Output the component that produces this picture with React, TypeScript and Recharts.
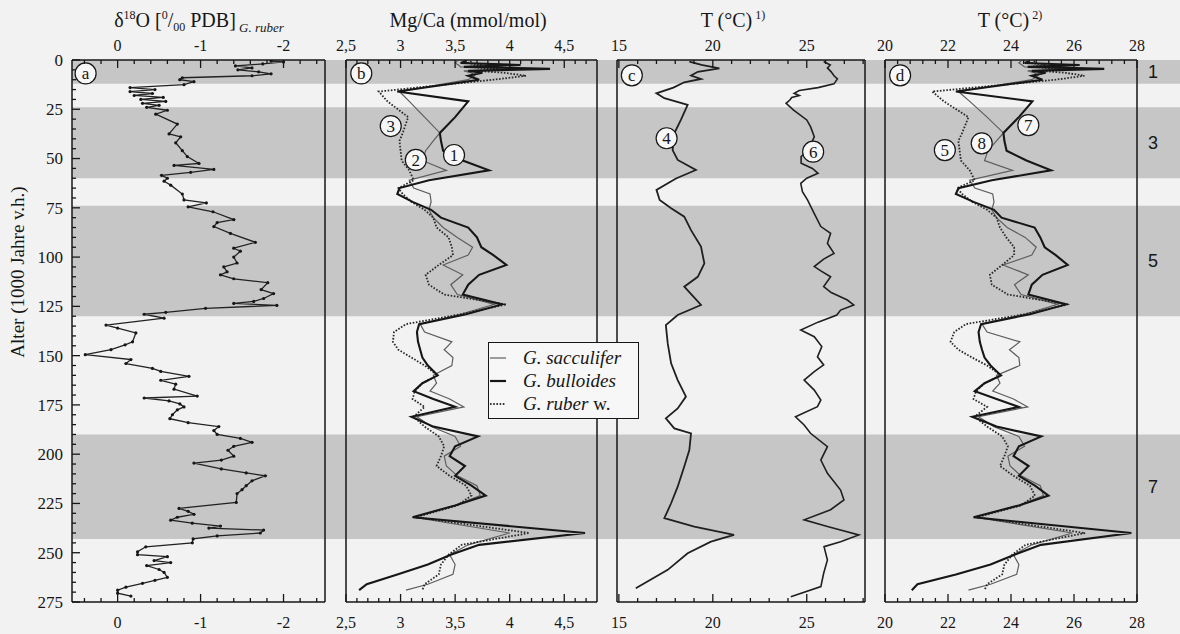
import React from 'react';
import { ScatterChart, Scatter, XAxis, YAxis, ReferenceArea, ReferenceDot, Legend } from 'recharts';

const W = 1180;
const H = 634;
const PLOT_TOP = 60;
const PLOT_BOTTOM = 602;
const AX = 10;

const PAPER = '#f2f2f2';
const BAND = '#c6c6c6';
const INK = '#161616';
const THIN = '#5e5e5e';
const SERIF = '"Liberation Serif", "Times New Roman", Times, serif';
const SANS = '"Liberation Sans", Arial, Helvetica, sans-serif';

// ---------------- data ----------------
const misStages = ['1', '3', '5', '7'];
const misFrom = [0, 24, 74, 190];
const misTo = [12, 60, 130, 243];

const d18oAges = [0.5, 1, 2, 3, 4, 5, 6, 7, 8, 9, 10, 11, 12.5, 14, 15, 16, 17, 18, 19, 20, 21, 22, 23, 24, 25.5, 27.5, 32.5, 37.5, 39, 42, 46, 49, 52.5, 53.5, 55.5, 57, 58.5, 60, 61.5, 63.5, 68, 71, 72.5, 74.5, 77, 81, 82.5, 84.5, 88, 92.5, 95.5, 97, 100, 103, 105, 107.5, 109, 111, 113, 116.5, 118.5, 121, 122.5, 123.5, 124.5, 126, 128, 129, 131, 134.5, 136, 138.5, 143, 144.5, 147, 149.5, 152, 154, 156.5, 158, 160.5, 162.5, 164.5, 167, 170.5, 171.5, 173, 174.5, 176, 177.5, 180, 182, 184, 186, 188, 190, 192, 194, 196, 198, 201, 203, 204.5, 207.5, 209.5, 211, 213.5, 216, 218, 220, 224.5, 227.5, 229, 230.5, 232, 233.5, 235, 236.5, 237.5, 238.5, 240, 241.5, 243, 245, 247, 249.5, 251, 252, 254, 255, 256.5, 258.5, 260, 262.5, 264, 265.5, 267.5, 269, 270.5, 272];
const d18oValues = [-1.85, -2.0, -1.75, -1.42, -1.62, -1.45, -1.7, -1.85, -1.62, -0.78, -0.75, -0.92, -0.8, -0.15, -0.45, -0.15, -0.42, -0.2, -0.55, -0.28, -0.58, -0.3, -0.5, -0.35, -0.6, -0.46, -0.72, -0.62, -0.76, -0.7, -0.78, -0.84, -0.98, -0.68, -1.16, -0.88, -0.53, -0.6, -0.56, -0.64, -0.78, -0.8, -1.07, -0.85, -1.15, -1.4, -1.2, -1.16, -1.36, -1.66, -1.4, -1.48, -1.4, -1.44, -1.28, -1.32, -1.24, -1.4, -1.81, -1.73, -1.88, -1.76, -1.64, -1.4, -1.92, -1.06, -0.58, -0.32, -0.56, 0.14, 0, -0.22, -0.18, -0.09, 0.08, 0.39, -0.16, -0.1, -0.42, -0.52, -0.86, -0.52, -0.7, -0.68, -0.96, -0.32, -0.62, -0.75, -0.8, -0.72, -0.66, -0.63, -0.85, -1.22, -1.16, -1.2, -1.48, -1.62, -1.4, -1.33, -1.4, -1.25, -0.92, -1.25, -1.55, -1.78, -1.62, -1.55, -1.5, -1.44, -1.43, -0.74, -0.85, -0.92, -0.72, -0.64, -0.9, -1.24, -1.1, -1.76, -1.72, -1.2, -0.91, -0.9, -0.34, -0.24, -0.24, -0.6, -0.44, -0.64, -0.35, -0.5, -0.56, -0.6, -0.45, -0.3, -0.1, 0, 0, -0.16];

const mgcaAges = [0.5, 1.5, 2.5, 3.5, 4.5, 5.5, 6.5, 8, 10, 16, 21, 29, 37, 41, 46, 51, 56, 61, 65, 68, 72, 76, 80, 85, 90, 95, 99, 104, 109, 114, 119, 124, 129, 134, 138, 143, 147, 151, 155, 160, 164, 168, 172, 176, 181, 186, 191, 196, 201, 206, 211, 216, 221, 226, 232, 240, 246, 251, 256, 261, 266, 269];
const sacculiferMgCa = [3.52, 3.5, 3.53, 3.55, 4.25, 3.58, 3.65, 3.68, 3.62, 2.99, 3.08, 3.22, 3.36, 3.3, 3.23, 3.2, 3.42, 3.08, 3.12, 3.27, 3.28, 3.26, 3.3, 3.39, 3.52, 3.66, 3.62, 3.39, 3.57, 3.46, 3.52, 3.86, 3.55, 3.18, 3.22, 3.47, 3.4, 3.48, 3.47, 3.3, 3.33, 3.27, 3.45, 3.58, 3.15, 3.28, 3.5, 3.55, 3.4, 3.42, 3.52, 3.7, 3.73, 3.5, 3.12, 4.0, 3.62, 3.45, 3.5, 3.48, 3.25, 3.05];
const bulloidesMgCa = [3.6, 3.55, 4.1, 3.58, 4.37, 3.62, 3.75, 3.62, 3.72, 2.97, 3.62, 3.5, 3.36, 3.37, 3.39, 3.57, 3.81, 3.26, 2.99, 2.97, 3.11, 3.28, 3.37, 3.62, 3.7, 3.74, 3.85, 3.97, 3.72, 3.62, 3.57, 3.93, 3.6, 3.17, 3.15, 3.16, 3.18, 3.2, 3.25, 3.34, 3.2, 3.12, 3.3, 3.5, 3.1, 3.3, 3.71, 3.5, 3.45, 3.59, 3.5, 3.65, 3.78, 3.5, 3.11, 4.69, 3.72, 3.46, 3.25, 2.97, 2.69, 2.62];
const ruberMgCa = [3.65, 3.62, 3.75, 3.62, 3.9, 3.7, 3.95, 4.15, 3.85, 2.8, 2.88, 3.07, 3.02, 2.99, 3.0, 3.01, 3.08, 3.12, 2.98, 3.02, 3.1, 3.22, 3.3, 3.33, 3.44, 3.47, 3.48, 3.35, 3.23, 3.26, 3.4, 3.97, 3.55, 3.05, 2.94, 2.93, 2.98, 3.1, 3.22, 3.34, 3.2, 3.13, 3.11, 3.22, 3.12, 3.22, 3.35, 3.4, 3.37, 3.33, 3.45, 3.6, 3.65, 3.52, 3.14, 4.18, 3.56, 3.44, 3.37, 3.35, 3.22, 3.2];

const sacculiferT = [24.32, 24.25, 24.35, 24.43, 26.62, 24.53, 24.76, 24.86, 24.66, 22.33, 22.69, 23.24, 23.76, 23.54, 23.27, 23.16, 24.05, 22.69, 22.85, 23.42, 23.46, 23.39, 23.54, 23.88, 24.45, 24.8, 24.66, 23.75, 24.55, 24.11, 24.32, 25.48, 24.43, 23.08, 23.24, 24.28, 23.95, 24.25, 24.28, 23.54, 23.65, 23.42, 24.08, 24.53, 22.97, 23.46, 24.25, 24.43, 23.9, 23.97, 24.32, 24.93, 25.03, 24.25, 22.85, 25.95, 24.66, 24.08, 24.25, 24.18, 23.35, 22.65];
const bulloidesT = [24.6, 24.43, 26.18, 24.53, 26.96, 24.66, 25.1, 24.66, 25.0, 22.25, 24.68, 24.25, 23.76, 23.79, 23.86, 24.49, 25.27, 23.39, 22.33, 22.25, 22.81, 23.46, 23.7, 24.75, 24.93, 25.07, 25.42, 25.8, 25.0, 24.66, 24.55, 25.75, 24.6, 23.05, 22.97, 23.01, 23.08, 23.16, 23.35, 23.68, 23.16, 22.85, 23.54, 24.25, 22.77, 23.54, 24.96, 24.25, 24.08, 24.56, 24.25, 24.76, 25.19, 24.25, 22.81, 27.82, 24.95, 24.11, 23.35, 22.25, 21.03, 20.85];
const ruberT = [24.76, 24.66, 25.1, 24.66, 25.57, 24.93, 25.73, 26.33, 25.42, 21.5, 21.87, 22.65, 22.45, 22.33, 22.37, 22.41, 22.69, 22.85, 22.29, 22.45, 22.77, 23.24, 23.54, 23.65, 23.85, 24.1, 24.1, 23.72, 23.33, 23.39, 23.9, 25.8, 24.43, 22.57, 22.2, 22.08, 22.33, 22.77, 23.24, 23.68, 23.16, 22.89, 22.81, 23.24, 22.85, 23.24, 23.72, 23.9, 23.79, 23.65, 24.08, 24.6, 24.76, 24.32, 22.93, 26.35, 24.46, 24.04, 23.79, 23.72, 23.24, 23.16];

const coolAges = [0.8, 2.5, 4.2, 6, 7.9, 9.6, 11.3, 14, 16.9, 19.4, 22.8, 30.4, 37.2, 45.7, 50.7, 55.8, 60.1, 65.9, 71, 75.2, 79.5, 86.3, 94.7, 103.2, 110, 115, 124.3, 129.4, 134.5, 143.8, 153.9, 162.4, 170.8, 176.8, 181.8, 186.9, 189.4, 197.9, 206.3, 216.5, 224.9, 232.5, 236.8, 241, 244.4, 250.3, 258.7, 268];
const coolT = [18.75, 19.4, 20.35, 19.2, 18.84, 19.37, 18.48, 17.9, 17.0, 17.42, 18.66, 18.3, 17.95, 17.86, 18.13, 19.1, 18.04, 17.0, 17.17, 17.78, 18.48, 18.84, 19.37, 19.55, 19.2, 18.48, 19.37, 18.13, 17.5, 17.6, 17.78, 18.13, 18.57, 18.13, 17.5, 17.95, 18.84, 18.75, 18.48, 18.13, 17.78, 17.42, 19.01, 21.13, 19.9, 18.66, 17.6, 15.9];
const warmAges = [0.8, 2.5, 4, 6, 8, 9.6, 12.1, 14, 15.5, 16.9, 18, 19, 20.3, 22, 25.4, 30.4, 33.8, 38.9, 45.7, 49, 52.4, 55, 57.5, 60, 62.6, 66.8, 71, 77.9, 84.5, 87.9, 93, 98.1, 101, 104.8, 107, 110, 115, 118, 121.8, 124.3, 126.9, 129.4, 133, 137, 140.4, 145.4, 150.6, 154.7, 158.1, 162.4, 167.5, 172.5, 175.9, 181, 185.2, 189.4, 196.2, 203, 209.7, 218.2, 223.2, 228.2, 233.3, 236.7, 241, 244.4, 246.9, 253.7, 260.4, 267.2, 272.3];
const warmT = [25.9, 26.25, 26.1, 26.3, 26.45, 26.63, 26.45, 25.6, 24.6, 24.33, 24.6, 24.2, 24.1, 23.9, 24.3, 25.0, 25.2, 25.4, 25.1, 24.7, 24.7, 25.3, 25.6, 25.0, 24.68, 24.77, 25.04, 25.4, 25.75, 26.27, 26.1, 26.45, 25.9, 25.4, 25.75, 26.27, 25.9, 26.3, 27.16, 27.5, 26.8, 26.6, 25.6, 24.68, 25.4, 25.8, 25.57, 25.9, 25.4, 24.86, 25.4, 25.75, 25.57, 24.4, 24.86, 25.2, 26.1, 25.75, 26.1, 26.8, 26.98, 26.27, 24.86, 26.1, 27.77, 26.8, 25.92, 26.1, 25.9, 25.75, 24.15];

// tick values
const ageMajors = [0, 25, 50, 75, 100, 125, 150, 175, 200, 225, 250, 275];
const d18oMajors = [0, -1, -2];
const mgcaMajors = [2.5, 3, 3.5, 4, 4.5];
const tcMajors = [15, 20, 25];
const tdMajors = [20, 22, 24, 26, 28];

// annotation tags [text, x value, age]
const tagsA: [string, number, number][] = [['a', 0.386, 6.8]];
const tagsB: [string, number, number][] = [['b', 2.64, 6.8], ['3', 2.91, 33.5], ['2', 3.14, 50.7], ['1', 3.49, 48.2]];
const tagsC: [string, number, number][] = [['c', 15.69, 7.8], ['4', 17.54, 39.7], ['6', 25.34, 46.5]];
const tagsD: [string, number, number][] = [['d', 20.48, 7.8], ['7', 24.55, 33], ['8', 23.07, 42.3], ['5', 21.9, 45.7]];

const legendNames = ['G. sacculifer', 'G. bulloides', 'G. ruber'];
const legendSuffix = ['', '', ' w.'];

// ---------------- helpers ----------------
const range = (a: number, b: number, s: number) => {
  const out: number[] = [];
  for (let v = a; v <= b + 1e-9; v += s) out.push(Math.round(v * 1000) / 1000);
  return out;
};
const near = (a: number, b: number) => Math.abs(a - b) < 1e-6;
const zip = (ages: number[], vals: number[]) => ages.map((y, i) => ({ x: vals[i], y }));

const ageTicks = range(0, 275, 5);

type Spec = {
  frame: [number, number];
  domain: [number, number];
  reversed?: boolean;
  ticks: number[];
  majors: number[];
  fmt: (v: number) => string;
};

const specA: Spec = { frame: [72, 325], domain: [-2.5, 0.55], reversed: true, ticks: range(-2.4, 0.4, 0.2), majors: d18oMajors, fmt: (v) => (v === 0 ? '0' : String(v)) };
const specB: Spec = { frame: [346, 597], domain: [2.5, 4.8], ticks: range(2.5, 4.7, 0.1), majors: mgcaMajors, fmt: (v) => String(v).replace('.', ',') };
const specC: Spec = { frame: [617, 865], domain: [14.9, 28.1], ticks: range(15, 28, 1), majors: tcMajors, fmt: (v) => String(v) };
const specD: Spec = { frame: [885, 1137], domain: [20, 28], ticks: range(20, 28, 0.4), majors: tdMajors, fmt: (v) => String(v) };

const makeXTick = (side: 'top' | 'bottom', spec: Spec) => (props: any) => {
  const { x, y, payload } = props;
  const v = Number(payload?.value);
  const major = spec.majors.some((m) => near(m, v));
  const len = major ? 8 : 4;
  const dir = side === 'top' ? 1 : -1;
  return (
    <g>
      <line x1={x} x2={x} y1={y} y2={y + dir * len} stroke={INK} strokeWidth={1.3} />
      {major && (
        <text x={x} y={side === 'top' ? y - 9 : y + 26} textAnchor="middle" fontSize={16} fontFamily={SERIF} fill={INK}>
          {spec.fmt(v)}
        </text>
      )}
    </g>
  );
};

const AgeTick = (props: any) => {
  const { x, y, payload } = props;
  const v = Number(payload?.value);
  const major = ageMajors.some((m) => near(m, v));
  const len = major ? 8 : 4;
  return (
    <g>
      <line x1={x} x2={x + len} y1={y} y2={y} stroke={INK} strokeWidth={1.3} />
      {major && (
        <text x={x - 9} y={y} dy="0.35em" textAnchor="end" fontSize={17} fontFamily={SERIF} fill={INK}>
          {v}
        </text>
      )}
    </g>
  );
};

const NoDot = () => <g />;
const SmallDot = (p: any) => <circle cx={p.cx} cy={p.cy} r={1.6} fill={INK} />;

const makeTag = (t: string) => (p: any) => (
  <g>
    <circle cx={p.cx} cy={p.cy} r={10.5} fill="#f7f7f7" stroke={INK} strokeWidth={1.2} />
    <text x={p.cx} y={p.cy} dy="0.35em" textAnchor="middle" fontSize={17} fontFamily={SERIF} fill={INK}>
      {t}
    </text>
  </g>
);

const axisLine = { stroke: INK, strokeWidth: 1.5 };

const TitleA = () => (
  <text x={199} y={27} textAnchor="middle" fontFamily={SERIF} fontSize={20} fill={INK}>
    δ<tspan fontSize={12} dy={-8}>18</tspan>
    <tspan dy={8}>O [</tspan>
    <tspan fontSize={12} dy={-8}>0</tspan>
    <tspan dy={8}>/</tspan>
    <tspan fontSize={12} dy={4}>00</tspan>
    <tspan dy={-4}> PDB]</tspan>
    <tspan fontSize={13} fontStyle="italic" dy={5}> G. ruber</tspan>
  </text>
);
const TitleB = () => (
  <text x={468} y={27} textAnchor="middle" fontFamily={SERIF} fontSize={20} fill={INK}>
    Mg/Ca (mmol/mol)
  </text>
);
const TitleC = () => (
  <text x={733} y={27} textAnchor="middle" fontFamily={SERIF} fontSize={20} fill={INK}>
    T (°C)<tspan fontSize={12} dy={-8}> 1)</tspan>
  </text>
);
const TitleD = () => (
  <text x={1010} y={27} textAnchor="middle" fontFamily={SERIF} fontSize={20} fill={INK}>
    T (°C)<tspan fontSize={12} dy={-8}> 2)</tspan>
  </text>
);
const YTitle = () => (
  <text x={17} y={272} transform="rotate(-90 17 272)" textAnchor="middle" dominantBaseline="central" fontFamily={SERIF} fontSize={19} fill={INK}>
    Alter (1000 Jahre v.h.)
  </text>
);

const LegendBox = () => {
  const styles = [
    { stroke: THIN, width: 1.2, dash: undefined as string | undefined },
    { stroke: INK, width: 2.2, dash: undefined as string | undefined },
    { stroke: '#333', width: 1.8, dash: '1.6 1.6' },
  ];
  return (
    <div
      style={{
        width: 151,
        height: 77,
        boxSizing: 'border-box',
        border: `1.5px solid ${INK}`,
        background: '#f7f7f7',
        fontFamily: SERIF,
        fontSize: 19,
        color: INK,
        paddingTop: 3,
      }}
    >
      {legendNames.map((n, i) => (
        <div key={n} style={{ display: 'flex', alignItems: 'center', height: 23, paddingLeft: 1 }}>
          <svg width={16} height={10} style={{ flex: 'none' }}>
            <line x1={0} x2={16} y1={5} y2={5} stroke={styles[i].stroke} strokeWidth={styles[i].width} strokeDasharray={styles[i].dash} />
          </svg>
          <span style={{ marginLeft: 17, fontStyle: 'italic', whiteSpace: 'nowrap' }}>
            {n}
            {legendSuffix[i] && <span style={{ fontStyle: 'normal' }}>{legendSuffix[i]}</span>}
          </span>
        </div>
      ))}
    </div>
  );
};

function PanelChart(props: {
  spec: Spec;
  ageAxis?: boolean;
  title: any;
  children?: React.ReactNode;
}) {
  const { spec, ageAxis, title, children } = props;
  const [L, R] = spec.frame;
  const margin = { top: PLOT_TOP - AX, bottom: H - PLOT_BOTTOM - AX, left: L - AX, right: W - R - AX };
  return (
    <div style={{ position: 'absolute', left: 0, top: 0 }}>
      <ScatterChart width={W} height={H} margin={margin}>
        <XAxis
          xAxisId="top"
          orientation="top"
          type="number"
          dataKey="x"
          domain={spec.domain}
          reversed={spec.reversed}
          allowDataOverflow
          ticks={spec.ticks}
          interval={0}
          tickSize={0}
          tickMargin={0}
          tickLine={false}
          tick={makeXTick('top', spec)}
          height={AX}
          axisLine={axisLine}
          label={title}
        />
        <XAxis
          xAxisId="bottom"
          orientation="bottom"
          type="number"
          dataKey="x"
          domain={spec.domain}
          reversed={spec.reversed}
          allowDataOverflow
          ticks={spec.ticks}
          interval={0}
          tickSize={0}
          tickMargin={0}
          tickLine={false}
          tick={makeXTick('bottom', spec)}
          height={AX}
          axisLine={axisLine}
        />
        <YAxis
          yAxisId="left"
          orientation="left"
          type="number"
          dataKey="y"
          domain={[0, 275]}
          reversed
          allowDataOverflow
          width={AX}
          ticks={ageAxis ? ageTicks : undefined}
          interval={0}
          tickSize={0}
          tickMargin={0}
          tickLine={false}
          tick={ageAxis ? AgeTick : false}
          axisLine={axisLine}
          label={ageAxis ? YTitle : undefined}
        />
        <YAxis
          yAxisId="right"
          orientation="right"
          type="number"
          dataKey="y"
          domain={[0, 275]}
          reversed
          allowDataOverflow
          width={AX}
          tick={false}
          tickLine={false}
          axisLine={axisLine}
        />
        {children}
      </ScatterChart>
    </div>
  );
}

const renderTags = (tags: [string, number, number][]) =>
  tags.map(([t, x, y]) => (
    <ReferenceDot key={t} xAxisId="bottom" yAxisId="left" x={x} y={y} r={10} ifOverflow="visible" shape={makeTag(t)} />
  ));

const lineThin = { stroke: THIN, strokeWidth: 1.2 };
const lineThick = { stroke: INK, strokeWidth: 2.1 };
const lineDot = { stroke: '#2a2a2a', strokeWidth: 1.8, strokeDasharray: '1.6 1.6' };

export default function App() {
  return (
    <div style={{ position: 'absolute', left: 0, top: 0, width: W, height: H, background: PAPER, overflow: 'hidden' }}>
      {/* background bands */}
      <div style={{ position: 'absolute', left: 0, top: 0 }}>
        <ScatterChart width={W} height={H} margin={{ top: PLOT_TOP, bottom: H - PLOT_BOTTOM, left: 72, right: 0 }}>
          <XAxis xAxisId="bg" type="number" dataKey="x" domain={[0, 1]} hide allowDataOverflow />
          <YAxis yAxisId="bg" type="number" dataKey="y" domain={[0, 275]} reversed hide allowDataOverflow />
          <Scatter xAxisId="bg" yAxisId="bg" data={[{ x: 0, y: 0 }]} shape={NoDot} isAnimationActive={false} />
          {misStages.map((s, i) => (
            <ReferenceArea
              key={s}
              xAxisId="bg"
              yAxisId="bg"
              y1={misFrom[i]}
              y2={misTo[i]}
              fill={BAND}
              fillOpacity={1}
              stroke="none"
              ifOverflow="visible"
              label={{ value: s, position: 'insideRight', offset: 22, fill: INK, fontSize: 18, fontFamily: SANS }}
            />
          ))}
        </ScatterChart>
      </div>

      <PanelChart spec={specA} ageAxis title={TitleA}>
        <Scatter
          xAxisId="bottom"
          yAxisId="left"
          data={zip(d18oAges, d18oValues)}
          line={{ stroke: '#222', strokeWidth: 1.3 }}
          shape={SmallDot}
          fill={INK}
          isAnimationActive={false}
        />
        {renderTags(tagsA)}
      </PanelChart>

      <PanelChart spec={specB} title={TitleB}>
        <Scatter xAxisId="bottom" yAxisId="left" data={zip(mgcaAges, sacculiferMgCa)} line={lineThin} shape={NoDot} fill={THIN} isAnimationActive={false} />
        <Scatter xAxisId="bottom" yAxisId="left" data={zip(mgcaAges, ruberMgCa)} line={lineDot} shape={NoDot} fill="#2a2a2a" isAnimationActive={false} />
        <Scatter xAxisId="bottom" yAxisId="left" data={zip(mgcaAges, bulloidesMgCa)} line={lineThick} shape={NoDot} fill={INK} isAnimationActive={false} />
        {renderTags(tagsB)}
      </PanelChart>

      <PanelChart spec={specC} title={TitleC}>
        <Scatter xAxisId="bottom" yAxisId="left" data={zip(coolAges, coolT)} line={{ stroke: '#202020', strokeWidth: 1.8 }} shape={NoDot} fill={INK} isAnimationActive={false} />
        <Scatter xAxisId="bottom" yAxisId="left" data={zip(warmAges, warmT)} line={{ stroke: '#202020', strokeWidth: 1.6 }} shape={NoDot} fill={INK} isAnimationActive={false} />
        {renderTags(tagsC)}
      </PanelChart>

      <PanelChart spec={specD} title={TitleD}>
        <Scatter xAxisId="bottom" yAxisId="left" data={zip(mgcaAges, sacculiferT)} line={lineThin} shape={NoDot} fill={THIN} isAnimationActive={false} />
        <Scatter xAxisId="bottom" yAxisId="left" data={zip(mgcaAges, ruberT)} line={lineDot} shape={NoDot} fill="#2a2a2a" isAnimationActive={false} />
        <Scatter xAxisId="bottom" yAxisId="left" data={zip(mgcaAges, bulloidesT)} line={lineThick} shape={NoDot} fill={INK} isAnimationActive={false} />
        {renderTags(tagsD)}
        <Legend
          layout="horizontal"
          verticalAlign="middle"
          align="center"
          content={LegendBox}
          wrapperStyle={{ left: 488, top: 342, width: 151, height: 77, zIndex: 10 }}
        />
      </PanelChart>
    </div>
  );
}
